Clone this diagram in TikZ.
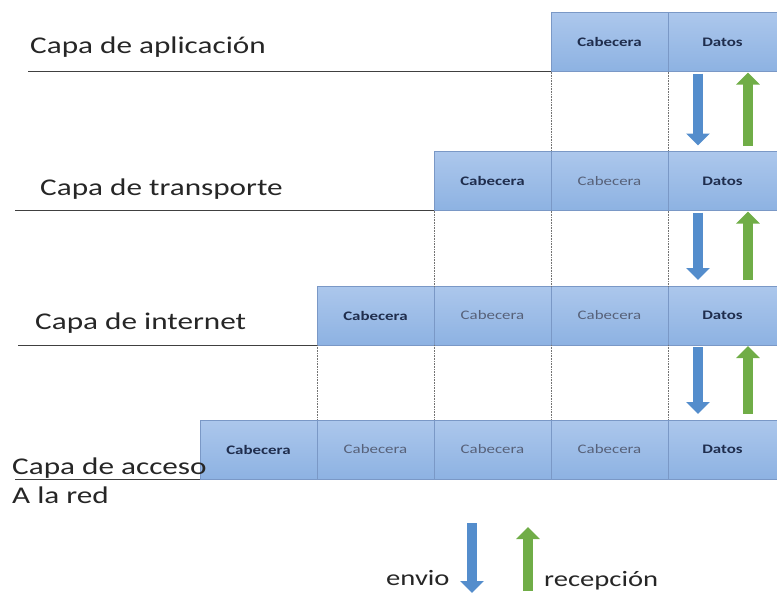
\documentclass[tikz,border=0pt]{standalone}
\usepackage{fontspec}
\setmainfont{Carlito}[FakeStretch=1.3]
\usetikzlibrary{arrows.meta, positioning}
\definecolor{celdaA}{RGB}{172,199,236}
\definecolor{celdaB}{RGB}{141,178,226}
\definecolor{borde}{RGB}{122,152,198}
\definecolor{azul}{RGB}{84,141,204}
\definecolor{verde}{RGB}{112,173,71}
\definecolor{textocel}{RGB}{31,45,77}
\tikzset{
    cel/.style={rectangle, top color=celdaA, bottom color=celdaB, draw=borde, line width=0.5pt,
        minimum width=117pt, minimum height=59pt, inner sep=0pt, outer sep=0pt,
        font=\fontsize{13}{15}\selectfont, text=textocel!75},
    cab/.style={cel, font=\fontsize{13}{15}\selectfont\bfseries, text=textocel},
    datos/.style={cel, minimum width=109pt, font=\fontsize{13}{15}\selectfont\bfseries, text=textocel},
    capa/.style={anchor=west, inner sep=0pt, align=left, text=black!85, font=\fontsize{24}{29}\selectfont},
    linea/.style={draw=black!75, line width=0.8pt},
    punteado/.style={draw=black!55, densely dotted, line width=0.6pt},
    bajada/.style={draw=azul, line width=10pt, -{Triangle[width=23pt, length=12pt]}},
    subida/.style={draw=verde, line width=10pt, -{Triangle[width=23pt, length=12pt]}}
}

\begin{document}
\begin{tikzpicture}[x=1pt, y=-1pt]
    \useasboundingbox (0,0) rectangle (777,597);

    % capa de aplicacion
    \node (aD) [datos] at (722.5,42) {Datos};
    \node (aC1) [cab, left=0pt of aD] {Cabecera};
    \node (lapp) [capa] at (30,47) {Capa de aplicación};

    % capa de transporte
    \node (tD) [datos] at (722.5,181) {Datos};
    \node (tC2) [cel, left=0pt of tD] {Cabecera};
    \node (tC1) [cab, left=0pt of tC2] {Cabecera};
    \node (ltra) [capa] at (40,189) {Capa de transporte};

    % capa de internet
    \node (iD) [datos] at (722.5,315.5) {Datos};
    \node (iC3) [cel, left=0pt of iD] {Cabecera};
    \node (iC2) [cel, left=0pt of iC3] {Cabecera};
    \node (iC1) [cab, left=0pt of iC2] {Cabecera};
    \node (lint) [capa] at (35,323) {Capa de internet};

    % capa de acceso a la red
    \node (rD) [datos] at (722.5,449.5) {Datos};
    \node (rC4) [cel, left=0pt of rD] {Cabecera};
    \node (rC3) [cel, left=0pt of rC4] {Cabecera};
    \node (rC2) [cel, left=0pt of rC3] {Cabecera};
    \node (rC1) [cab, left=0pt of rC2] {Cabecera};
    \node (lacc) [capa] at (12,481) {Capa de acceso\\A la red};

    % lineas de cada capa
    \draw [linea] (aC1.south west) -- (aC1.south west -| 28,0);
    \draw [linea] (tC1.south west) -- (tC1.south west -| 15,0);
    \draw [linea] (iC1.south west) -- (iC1.south west -| 18,0);
    \draw [linea] (rC1.south west) -- (rC1.south west -| 15,0);

    % guias punteadas
    \draw [punteado] (aC1.south west) -- (tC2.north west);
    \draw [punteado] (aD.south west) -- (tD.north west);
    \draw [punteado] (tC1.south west) -- (iC2.north west);
    \draw [punteado] (tC2.south west) -- (iC3.north west);
    \draw [punteado] (tD.south west) -- (iD.north west);
    \draw [punteado] (iC1.south west) -- (rC2.north west);
    \draw [punteado] (iC2.south west) -- (rC3.north west);
    \draw [punteado] (iC3.south west) -- (rC4.north west);
    \draw [punteado] (iD.south west) -- (rD.north west);

    % envio y recepcion entre capas
    \draw [bajada] ([xshift=-24.5pt, yshift=-2pt]aD.south) -- ([xshift=-24.5pt, yshift=6pt]tD.north);
    \draw [subida] ([xshift=25.5pt, yshift=6pt]tD.north) -- ([xshift=25.5pt, yshift=-1pt]aD.south);
    \draw [bajada] ([xshift=-24.5pt, yshift=-2pt]tD.south) -- ([xshift=-24.5pt, yshift=6pt]iD.north);
    \draw [subida] ([xshift=25.5pt, yshift=6pt]iD.north) -- ([xshift=25.5pt, yshift=-1pt]tD.south);
    \draw [bajada] ([xshift=-24.5pt, yshift=-2pt]iD.south) -- ([xshift=-24.5pt, yshift=6pt]rD.north);
    \draw [subida] ([xshift=25.5pt, yshift=6pt]rD.north) -- ([xshift=25.5pt, yshift=-1pt]iD.south);

    % leyenda
    \node (envio) [capa, font=\fontsize{22}{26}\selectfont] at (386,578) {envio};
    \node (recep) [capa, font=\fontsize{22}{26}\selectfont] at (544,581) {recepción};
    \coordinate (eA) at (472,523);
    \coordinate (eB) at (472,593);
    \coordinate (rA) at (528,591);
    \coordinate (rB) at (528,527);
    \draw [bajada] (eA) -- (eB);
    \draw [subida] (rA) -- (rB);
\end{tikzpicture}
\end{document}
